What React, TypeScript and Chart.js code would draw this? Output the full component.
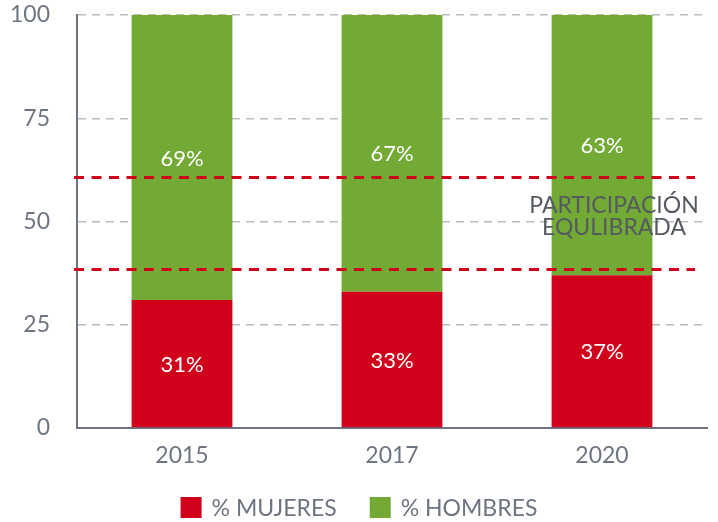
import React, { useEffect, useRef } from "react";
import { Chart, registerables } from "chart.js";

Chart.register(...registerables);

const years = ["2015", "2017", "2020"];
const mujeres = [31, 33, 37];
const hombres = [69, 67, 63];
const yTicks = [0, 25, 50, 75, 100];
const refLines = [60.8, 38.5];
const refLabel = ["PARTICIPACIÓN", "EQULIBRADA"];

const RED = "#d0021b";
const GREEN = "#73a935";
const AXIS = "#6e7580";
const GRID = "#b9bcc1";
const FONT = "Lato, 'Open Sans', sans-serif";

const overlayPlugin = {
  id: "overlay",
  afterDatasetsDraw(chart: any) {
    const { ctx, chartArea, scales } = chart;
    const y = scales.y;
    const x = scales.x;
    ctx.save();
    // red reference lines
    ctx.strokeStyle = RED;
    ctx.lineWidth = 3;
    ctx.setLineDash([10, 7.5]);
    refLines.forEach((v) => {
      const py = Math.round(y.getPixelForValue(v)) + 0.5;
      ctx.beginPath();
      ctx.moveTo(chartArea.left - 3, py);
      ctx.lineTo(chartArea.right - 12, py);
      ctx.stroke();
    });
    ctx.setLineDash([]);
    // value labels
    ctx.fillStyle = "#ffffff";
    ctx.font = `22px ${FONT}`;
    ctx.textAlign = "center";
    ctx.textBaseline = "middle";
    chart.data.datasets.forEach((ds: any, di: number) => {
      const meta = chart.getDatasetMeta(di);
      meta.data.forEach((bar: any, i: number) => {
        ctx.fillText(ds.data[i] + "%", bar.x, (bar.y + bar.base) / 2 + 1);
      });
    });
    // reference label
    ctx.fillStyle = "#555a60";
    ctx.font = `23px ${FONT}`;
    const cx = x.getPixelForValue(2) + 12;
    const mid = y.getPixelForValue((refLines[0] + refLines[1]) / 2) - 6;
    ctx.fillText(refLabel[0], cx, mid - 11);
    ctx.fillText(refLabel[1], cx, mid + 11);
    // legend
    ctx.font = `23px ${FONT}`;
    ctx.textAlign = "left";
    const box = 21;
    const gapBoxText = 10;
    const gapItems = 33;
    const items = chart.data.datasets.map((ds: any) => ({
      label: ds.label,
      color: ds.backgroundColor,
      w: box + gapBoxText + ctx.measureText(ds.label).width,
    }));
    const total = items.reduce((a: number, it: any) => a + it.w, 0) + gapItems * (items.length - 1);
    let lx = (chart.width - total) / 2;
    const ly = 497;
    items.forEach((it: any) => {
      ctx.fillStyle = it.color;
      ctx.fillRect(lx, ly, box, box);
      ctx.fillStyle = AXIS;
      ctx.fillText(it.label, lx + box + gapBoxText, ly + box / 2 + 1);
      lx += it.w + gapItems;
    });
    ctx.restore();
  },
};

export default function App() {
  const ref = useRef<HTMLCanvasElement>(null);
  useEffect(() => {
    if (!ref.current) return;
    const chart = new Chart(ref.current, {
      type: "bar",
      data: {
        labels: years,
        datasets: [
          { label: "% MUJERES", data: mujeres, backgroundColor: RED, barPercentage: 0.96, categoryPercentage: 0.5 },
          { label: "% HOMBRES", data: hombres, backgroundColor: GREEN, barPercentage: 0.96, categoryPercentage: 0.5 },
        ],
      },
      options: {
        animation: false,
        responsive: true,
        maintainAspectRatio: false,
        layout: { padding: { top: 15, right: 11, bottom: 44, left: 0 } },
        plugins: {
          tooltip: { enabled: false },
          legend: { display: false },
        },
        scales: {
          x: {
            stacked: true,
            grid: { display: false, drawTicks: false },
            border: { display: true, color: AXIS, width: 2 },
            ticks: { color: AXIS, font: { family: FONT, size: 23 }, padding: 14 },
            afterFit: (s: any) => {
              s.height = 50;
            },
          },
          y: {
            stacked: true,
            min: 0,
            max: 100,
            afterBuildTicks: (s: any) => {
              s.ticks = yTicks.map((v) => ({ value: v }));
            },
            afterFit: (s: any) => {
              s.width = 77;
            },
            grid: {
              color: (c: any) => (c.tick && c.tick.value === 0 ? "rgba(0,0,0,0)" : GRID),
              lineWidth: 1.5,
              drawTicks: true,
              tickLength: 27,
              tickColor: "rgba(0,0,0,0)",
            },
            border: { display: true, color: AXIS, width: 2, dash: [8, 6] as any },
            ticks: { color: AXIS, font: { family: FONT, size: 23 }, padding: 0 },
          },
        },
      },
      plugins: [overlayPlugin],
    });
    return () => chart.destroy();
  }, []);
  return (
    <div style={{ position: "fixed", left: 0, top: 0, width: 718, height: 522, background: "#fff" }}>
      <canvas ref={ref} />
    </div>
  );
}
